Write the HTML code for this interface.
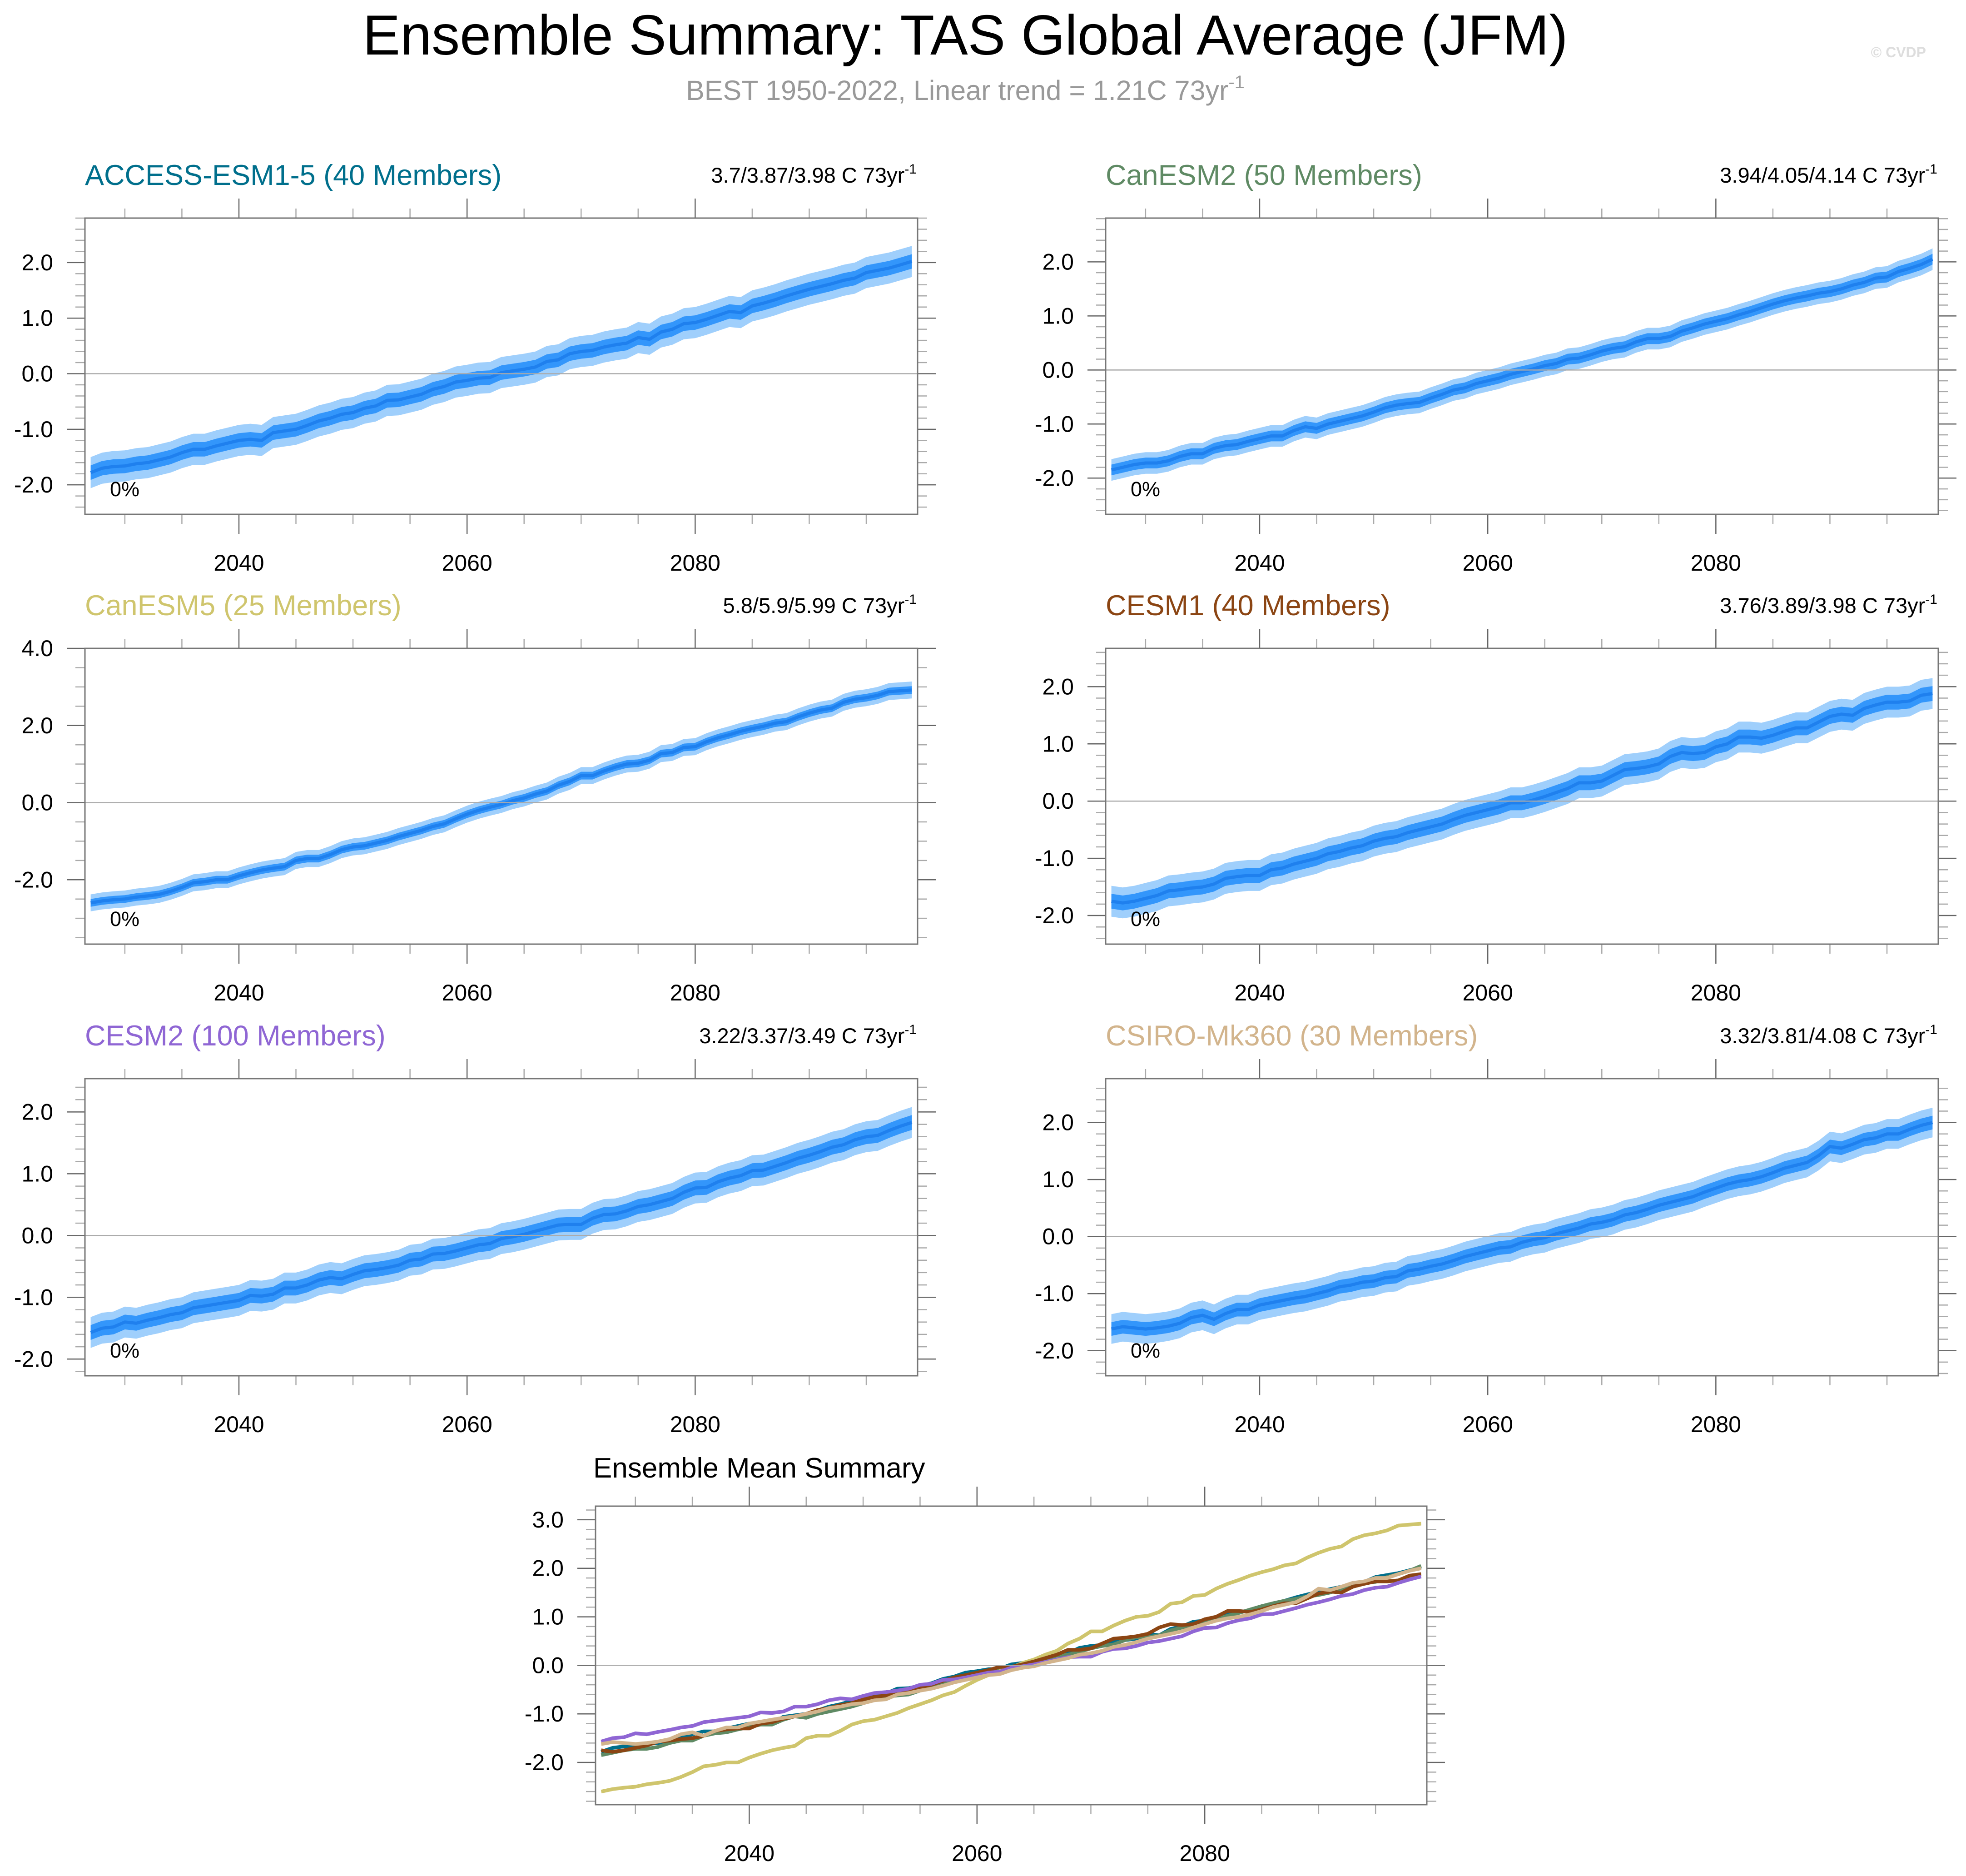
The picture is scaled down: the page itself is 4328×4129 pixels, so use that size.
<!DOCTYPE html>
<html><head><meta charset="utf-8"><style>
html,body{margin:0;padding:0;background:#fff;}
svg{display:block;font-family:"Liberation Sans",sans-serif;}
</style></head><body>
<svg id="fig" width="4328" height="4129" viewBox="0 0 4328 4129" xmlns="http://www.w3.org/2000/svg">
<text x="2125" y="120" font-size="124" text-anchor="middle" fill="#000">Ensemble Summary: TAS Global Average (JFM)</text>
<text x="2125" y="220" font-size="61" text-anchor="middle" fill="#999">BEST 1950-2022, Linear trend = 1.21C 73yr<tspan font-size="40" dy="-26">-1</tspan></text>
<text x="4240" y="126" font-size="32" text-anchor="end" fill="#ddd" font-weight="bold">© CVDP</text>
<g id="panels"></g>
</svg>
<script>
const years = [];
for (let y = 2027; y <= 2099; y++) years.push(y);
const modelNames = ["ACCESS-ESM1-5 (40 Members)","CanESM2 (50 Members)","CanESM5 (25 Members)","CESM1 (40 Members)","CESM2 (100 Members)","CSIRO-Mk360 (30 Members)"];
const trendLabels = ["3.7/3.87/3.98 C 73yr","3.94/4.05/4.14 C 73yr","5.8/5.9/5.99 C 73yr","3.76/3.89/3.98 C 73yr","3.22/3.37/3.49 C 73yr","3.32/3.81/4.08 C 73yr"];
const meanACCESS = [-1.78,-1.70,-1.67,
-1.66,-1.62,-1.60,-1.55,-1.50,-1.42,-1.36,-1.36,-1.30,-1.25,
-1.20,-1.18,-1.20,-1.06,-1.03,-1.00,-0.93,-0.85,-0.80,-0.73,
-0.70,-0.62,-0.58,-0.48,-0.47,-0.42,-0.37,-0.28,-0.23,-0.15,
-0.12,-0.08,-0.07,0.02,0.05,0.08,0.12,0.22,0.25,0.36,
0.40,0.42,0.48,0.52,0.55,0.65,0.62,0.75,0.80,0.90,
0.92,0.98,1.05,1.12,1.10,1.22,1.27,1.33,1.40,1.46,
1.52,1.57,1.62,1.68,1.72,1.82,1.86,1.90,1.96,2.02];
const meanCanESM2 = [-1.85,-1.80,-1.75,
-1.72,-1.72,-1.68,-1.60,-1.55,-1.55,-1.45,-1.40,-1.38,-1.32,
-1.27,-1.22,-1.22,-1.12,-1.05,-1.08,-1.00,-0.95,-0.90,-0.85,
-0.78,-0.70,-0.65,-0.62,-0.60,-0.52,-0.45,-0.37,-0.33,-0.25,
-0.20,-0.15,-0.08,-0.03,0.02,0.08,0.12,0.20,0.22,0.28,
0.35,0.40,0.43,0.52,0.58,0.58,0.62,0.72,0.78,0.85,
0.90,0.95,1.02,1.08,1.15,1.22,1.28,1.33,1.37,1.42,
1.45,1.50,1.57,1.62,1.70,1.72,1.82,1.88,1.95,2.05];
const meanCanESM5 = [-2.60,-2.55,-2.52,
-2.50,-2.45,-2.42,-2.38,-2.30,-2.20,-2.08,-2.05,-2.00,-2.00,
-1.90,-1.82,-1.75,-1.70,-1.66,-1.50,-1.45,-1.45,-1.35,-1.22,
-1.15,-1.12,-1.05,-0.98,-0.88,-0.80,-0.72,-0.62,-0.55,-0.42,
-0.30,-0.20,-0.12,-0.05,0.05,0.12,0.22,0.30,0.45,0.55,
0.70,0.70,0.82,0.92,1.00,1.02,1.10,1.27,1.30,1.43,
1.45,1.58,1.68,1.76,1.85,1.92,1.98,2.06,2.10,2.22,
2.32,2.40,2.45,2.60,2.68,2.72,2.78,2.88,2.90,2.92];
const meanCESM1 = [-1.75,-1.78,-1.75,
-1.70,-1.65,-1.57,-1.55,-1.52,-1.50,-1.45,-1.35,-1.32,-1.30,
-1.30,-1.20,-1.17,-1.10,-1.05,-1.00,-0.92,-0.88,-0.82,-0.78,
-0.70,-0.65,-0.62,-0.55,-0.50,-0.45,-0.40,-0.32,-0.25,-0.20,
-0.15,-0.10,-0.03,-0.03,0.02,0.08,0.15,0.22,0.32,0.32,
0.35,0.45,0.55,0.57,0.60,0.65,0.78,0.85,0.83,0.85,
0.95,1.00,1.12,1.12,1.10,1.15,1.22,1.28,1.28,1.38,
1.48,1.52,1.50,1.62,1.68,1.73,1.73,1.75,1.85,1.88];
const meanCESM2 = [-1.57,-1.50,-1.48,
-1.40,-1.42,-1.37,-1.33,-1.28,-1.25,-1.17,-1.14,-1.11,-1.08,
-1.05,-0.97,-0.98,-0.95,-0.85,-0.85,-0.80,-0.72,-0.68,-0.70,
-0.63,-0.57,-0.55,-0.52,-0.48,-0.40,-0.38,-0.30,-0.29,-0.25,
-0.20,-0.15,-0.13,-0.05,-0.02,0.02,0.07,0.12,0.17,0.18,
0.18,0.28,0.34,0.35,0.40,0.47,0.50,0.55,0.60,0.70,
0.77,0.78,0.87,0.93,0.97,1.05,1.06,1.12,1.18,1.25,
1.30,1.36,1.43,1.47,1.55,1.60,1.62,1.70,1.77,1.83];
const meanCSIRO = [-1.62,-1.58,-1.60,
-1.62,-1.60,-1.57,-1.52,-1.42,-1.38,-1.45,-1.35,-1.28,-1.28,
-1.20,-1.16,-1.12,-1.08,-1.05,-1.00,-0.95,-0.88,-0.85,-0.80,
-0.78,-0.72,-0.70,-0.60,-0.57,-0.52,-0.48,-0.42,-0.35,-0.30,
-0.25,-0.20,-0.18,-0.10,-0.05,-0.02,0.05,0.10,0.15,0.22,
0.25,0.30,0.38,0.42,0.48,0.55,0.60,0.65,0.70,0.78,
0.85,0.92,0.97,1.00,1.05,1.12,1.20,1.25,1.30,1.42,
1.58,1.55,1.62,1.70,1.73,1.80,1.80,1.88,1.95,2.00];
const innerHalf = [0.13,0.10,0.10,0.13,0.12,0.12];
const outerHalf = [0.28,0.20,0.22,0.27,0.25,0.26];
const modelColors = ["#006f8c","#5f8a64","#cfc56d","#8b4513","#8f66d4","#d2b48c"];
const yTickLabelsStd = ["2.0","1.0","0.0","-1.0","-2.0"];
const yTickLabelsC5 = ["4.0","2.0","0.0","-2.0"];
const yTickLabelsMean = ["3.0","2.0","1.0","0.0","-1.0","-2.0"];
const xTickLabels = ["2040","2060","2080"];
const allMeans = [meanACCESS,meanCanESM2,meanCanESM5,meanCESM1,meanCESM2,meanCSIRO];

const NS = "http://www.w3.org/2000/svg";
const root = document.getElementById("panels");
function mk(tag, attrs, parent){ const e=document.createElementNS(NS,tag); for(const k in attrs) e.setAttribute(k,attrs[k]); (parent||root).appendChild(e); return e; }

const layout = [
 {x0:187,x1:2020,y0:480,y1:1132,ymin:-2.53,ymax:2.80,step:1,minor:0.2,labels:yTickLabelsStd},
 {x0:2434,x1:4267,y0:480,y1:1132,ymin:-2.67,ymax:2.81,step:1,minor:0.2,labels:yTickLabelsStd},
 {x0:187,x1:2020,y0:1427,y1:2078,ymin:-3.67,ymax:4.0,step:2,minor:0.5,labels:yTickLabelsC5},
 {x0:2434,x1:4267,y0:1427,y1:2078,ymin:-2.5,ymax:2.67,step:1,minor:0.2,labels:yTickLabelsStd},
 {x0:187,x1:2020,y0:2374,y1:3028,ymin:-2.27,ymax:2.54,step:1,minor:0.2,labels:yTickLabelsStd},
 {x0:2434,x1:4267,y0:2374,y1:3028,ymin:-2.44,ymax:2.77,step:1,minor:0.2,labels:yTickLabelsStd}
];
const meanLayout = {x0:1311,x1:3141,y0:3315,y1:3972,ymin:-2.87,ymax:3.28,step:1,minor:0.2,labels:yTickLabelsMean};

function axes(L, name){
  const g = mk("g",{});
  
  
  const xs = y => L.x0 + (y-2026.5)/(2099.5-2026.5)*(L.x1-L.x0);
  const ys = v => L.y1 - (v-L.ymin)/(L.ymax-L.ymin)*(L.y1-L.y0);
  L.xs = xs; L.ys = ys; L.g = g;
  return L;
}
function frame(L){
  const g=L.g, xs=L.xs, ys=L.ys;
  const z = mk("line",{x1:L.x0,x2:L.x1,y1:ys(0),y2:ys(0),stroke:"#aaa","stroke-width":2.5},g);
  
  
  const nMin = Math.ceil(L.ymin/L.minor-1e-6), nMax = Math.floor(L.ymax/L.minor+1e-6);
  for(let k=nMin;k<=nMax;k++){
    const v=k*L.minor, major=Math.abs(v/L.step-Math.round(v/L.step))<1e-6, len=major?40:21, yy=ys(v);
    mk("line",{x1:L.x0-len,x2:L.x0,y1:yy,y2:yy,stroke:major?"#666":"#aaa","stroke-width":2.5},g);
    mk("line",{x1:L.x1,x2:L.x1+len,y1:yy,y2:yy,stroke:major?"#666":"#aaa","stroke-width":2.5},g);
  }
  L.labels.forEach(t=>{
    const tx=mk("text",{x:L.x0-70,y:ys(parseFloat(t))+17,"font-size":50,"text-anchor":"end",fill:"#000"},g);
    tx.textContent=t;
    
    
  });
  for(let yr=2030;yr<=2095;yr+=5){
    const major = yr%20===0, len=major?43:21, xx=xs(yr);
    mk("line",{x1:xx,x2:xx,y1:L.y0-len,y2:L.y0,stroke:major?"#666":"#aaa","stroke-width":2.5},g);
    mk("line",{x1:xx,x2:xx,y1:L.y1,y2:L.y1+len,stroke:major?"#666":"#aaa","stroke-width":2.5},g);
  }
  xTickLabels.forEach(t=>{
    const tx=mk("text",{x:xs(parseInt(t)),y:L.y1+124,"font-size":50,"text-anchor":"middle",fill:"#000"},g);
    tx.textContent=t;
    
    
  });
  const r = mk("rect",{x:L.x0,y:L.y0,width:L.x1-L.x0,height:L.y1-L.y0,fill:"none",stroke:"#777","stroke-width":3},g);
  
  
}
function band(L, data, lo, hi, color, name){
  let d="M"+data.map((v,i)=>L.xs(years[i]).toFixed(1)+","+L.ys(v+hi).toFixed(1)).join("L");
  for(let i=data.length-1;i>=0;i--) d+="L"+L.xs(years[i]).toFixed(1)+","+L.ys(data[i]-lo).toFixed(1);
  const p=mk("path",{d:d+"Z",fill:color,stroke:"none"},L.g);
  
  
}
function line(L, data, color, w, name){
  const d="M"+data.map((v,i)=>L.xs(years[i]).toFixed(1)+","+L.ys(v).toFixed(1)).join("L");
  const p=mk("path",{d:d,fill:"none",stroke:color,"stroke-width":w,"stroke-linejoin":"round"},L.g);
  
  
}

layout.forEach((L,m)=>{
  axes(L, "panel-"+m);
  const data = allMeans[m];
  band(L, data, outerHalf[m], outerHalf[m], "#9fcffc", "outer-spread-band");
  band(L, data, innerHalf[m], innerHalf[m], "#3396fb", "inner-spread-band");
  line(L, data, "#1f80ee", 7, "ensemble-mean-line");
  frame(L);
  const t=mk("text",{x:L.x0,y:L.y0-73,"font-size":63,fill:modelColors[m]},L.g);
  t.textContent=modelNames[m];
  
  
  const r=mk("text",{x:L.x1-2,y:L.y0-78,"font-size":47,"text-anchor":"end",fill:"#000"},L.g);
  r.textContent=trendLabels[m];
  const sup=mk("tspan",{"font-size":30,dy:-20},r);
  sup.textContent="-1";
  
  
  const p=mk("text",{x:L.x0+55,y:L.y1-40,"font-size":45,fill:"#000"},L.g);
  p.textContent="0%";
  
  
});

axes(meanLayout, "ensemble-mean-panel");
allMeans.forEach((d,m)=>{
  line(meanLayout, d, modelColors[m], 8, "mean-line-"+m);
});
frame(meanLayout);
const mt=mk("text",{x:meanLayout.x0-5,y:meanLayout.y0-63,"font-size":62,fill:"#000"},meanLayout.g);
mt.textContent="Ensemble Mean Summary";


</script>
</body></html>
